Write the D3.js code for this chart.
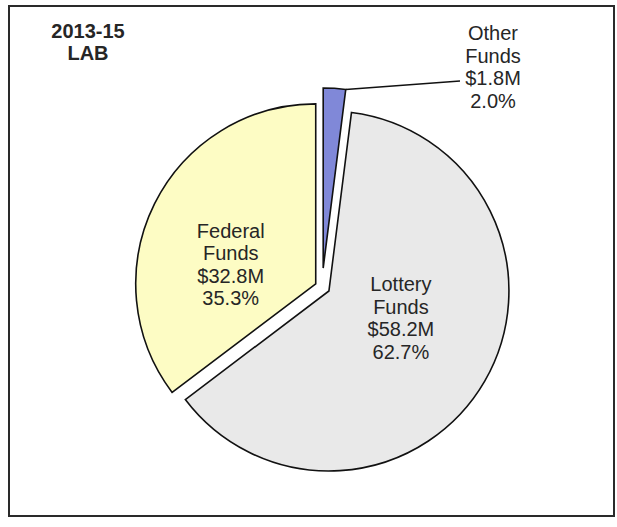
<!DOCTYPE html>
<html>
<head>
<meta charset="utf-8">
<script src="https://cdn.jsdelivr.net/npm/d3@7"></script>
<style>
  html, body { margin: 0; padding: 0; background: #fff; }
  svg { display: block; }
  text { font-family: Arial, "Liberation Sans", sans-serif; fill: #262626; }
</style>
</head>
<body>
<script>
// Fund sources, 2013-15 Legislatively Adopted Budget
const categories = ["Other Funds", "Lottery Funds", "Federal Funds"];
const amounts = ["$1.8M", "$58.2M", "$32.8M"];
const percents = [2.0, 62.7, 35.3];
const titleLines = ["2013-15", "LAB"];

const colors = ["#8088d8", "#e9e9e9", "#fdfcc4"];
const explode = [19, 8, 7];          // slice offset along its bisector, px

const W = 617, H = 527;
const cx = 322, cy = 287, R = 180;
const lineH = 22.5;

const svg = d3.select("body").append("svg")
  .attr("width", W).attr("height", H);

// frame
svg.append("rect")
  .attr("x", 9).attr("y", 6).attr("width", 605).attr("height", 510)
  .attr("fill", "#fff").attr("stroke", "#2a2a2a").attr("stroke-width", 2);

// title
svg.append("text")
  .attr("text-anchor", "middle")
  .attr("font-weight", "bold").attr("font-size", 20)
  .selectAll("tspan").data(titleLines).join("tspan")
  .attr("x", 88).attr("y", (d, i) => 38 + i * 22)
  .text(d => d);

const data = categories.map((c, i) => ({
  name: c, amount: amounts[i], pct: percents[i], color: colors[i], ex: explode[i]
}));

const pie = d3.pie().sort(null).value(d => d.pct).startAngle(0).endAngle(2 * Math.PI);
const arcs = pie(data);
const arc = d3.arc().innerRadius(0).outerRadius(R);

function offset(a) {
  const mid = (a.startAngle + a.endAngle) / 2;
  return [cx + Math.sin(mid) * a.data.ex, cy - Math.cos(mid) * a.data.ex];
}

const g = svg.append("g");
g.selectAll("path").data(arcs).join("path")
  .attr("transform", d => `translate(${offset(d)})`)
  .attr("d", arc)
  .attr("fill", d => d.data.color)
  .attr("stroke", "#111")
  .attr("stroke-width", 1.6)
  .attr("stroke-linejoin", "miter");

// label lines: name split in two words, amount, percent
function lines(d) {
  const parts = d.data.name.split(" ");
  return [parts[0], parts[1], d.data.amount, d.data.pct.toFixed(1) + "%"];
}

// inside labels placed relative to each slice's own centre
const insidePos = { "Lottery Funds": [72, 0], "Federal Funds": [-85, -46] };
arcs.filter(d => insidePos[d.data.name]).forEach(d => {
  const [ox, oy] = offset(d);
  const [dx, dy] = insidePos[d.data.name];
  svg.append("text")
    .attr("text-anchor", "middle").attr("font-size", 20)
    .selectAll("tspan").data(lines(d)).join("tspan")
    .attr("x", ox + dx).attr("y", (t, i) => oy + dy + i * lineH)
    .text(t => t);
});

// outside label with leader line for the small slice
const small = arcs[0];
const [sx, sy] = offset(small);
const corner = [sx + Math.sin(small.endAngle) * R, sy - Math.cos(small.endAngle) * R];
const lx = 493, ly = 40;
svg.append("line")
  .attr("x1", corner[0]).attr("y1", corner[1])
  .attr("x2", lx - 33).attr("y2", ly + 2 * lineH - 4)
  .attr("stroke", "#111").attr("stroke-width", 1.6);
svg.append("text")
  .attr("text-anchor", "middle").attr("font-size", 20)
  .selectAll("tspan").data(lines(small)).join("tspan")
  .attr("x", lx).attr("y", (t, i) => ly + i * lineH)
  .text(t => t);
</script>
</body>
</html>
